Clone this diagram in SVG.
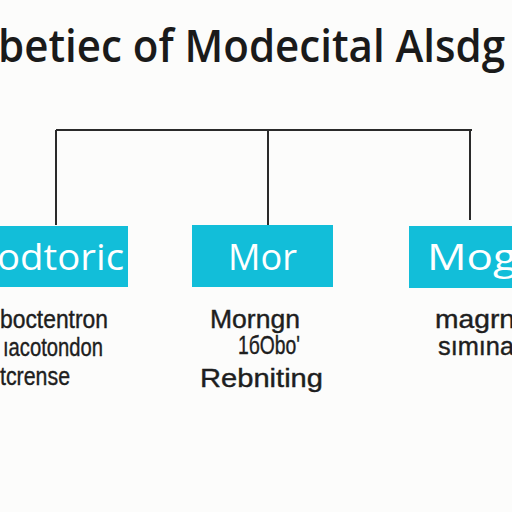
<svg xmlns="http://www.w3.org/2000/svg" width="512" height="512" viewBox="0 0 512 512">
<style>
.title{font-family:"Open Sans","Noto Sans",sans-serif;font-size:45px;font-weight:600;fill:#1a1a1a}
.box{fill:#12BED9}
.bl{font-family:"Open Sans","Noto Sans",sans-serif;font-size:37px;font-weight:400;fill:#ffffff}
.sub{font-family:"Liberation Sans","Noto Sans",sans-serif;font-size:25px;fill:#1e1e1e;stroke:#1e1e1e;stroke-width:0.4}
.conn{stroke:#2a2a2a;stroke-width:2;fill:none}
</style>
<rect width="512" height="512" fill="#fcfcfb"/>
<text class="title" x="-2" y="62" textLength="507" lengthAdjust="spacingAndGlyphs">betiec of Modecital Alsdg</text>
<g id="connectors">
<path class="conn" d="M56 130 H472 M56 130 V225 M268 130 V225 M470 130 V220"/>
</g>
<g id="node-left">
<rect class="box" x="-5" y="226" width="133" height="61"/>
<text class="bl" x="-3" y="270" textLength="127" lengthAdjust="spacingAndGlyphs">odtoric</text>
<text class="sub" x="0" y="328" textLength="108" lengthAdjust="spacingAndGlyphs">boctentron</text>
<text class="sub" x="3" y="356" textLength="100" lengthAdjust="spacingAndGlyphs">ıacotondon</text>
<text class="sub" x="0" y="385" textLength="70" lengthAdjust="spacingAndGlyphs">tcrense</text>
</g>
<g id="node-middle">
<rect class="box" x="192" y="225" width="141" height="62"/>
<text class="bl" x="228" y="270" textLength="69" lengthAdjust="spacingAndGlyphs">Mor</text>
<text class="sub" x="210" y="328" textLength="90" lengthAdjust="spacingAndGlyphs">Morngn</text>
<text class="sub" x="238" y="354" font-size="20" textLength="62" lengthAdjust="spacingAndGlyphs">1бObo'</text>
<text class="sub" x="200" y="387" textLength="123" lengthAdjust="spacingAndGlyphs">Rebniting</text>
</g>
<g id="node-right">
<rect class="box" x="409" y="226" width="110" height="62"/>
<text class="bl" x="427" y="270" textLength="90" lengthAdjust="spacingAndGlyphs">Mog</text>
<text class="sub" x="435" y="328" textLength="80" lengthAdjust="spacingAndGlyphs">magrn</text>
<text class="sub" x="438" y="355" textLength="76" lengthAdjust="spacingAndGlyphs">sımına</text>
</g>
</svg>
